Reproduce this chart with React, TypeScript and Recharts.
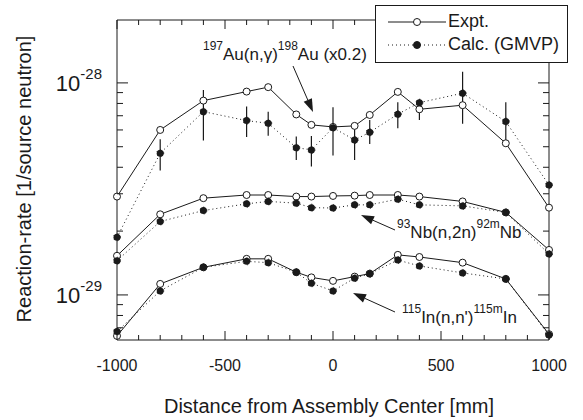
import React from "react";
import { ComposedChart, Line, XAxis, YAxis, ErrorBar, Legend } from "recharts";

const FONT = '"Liberation Sans", Arial, Helvetica, sans-serif';
const INK = "#1a1a1a";

// detector positions [mm]
const positions = [-1000, -800, -600, -400, -300, -170, -100, 0, 100, 170, 300, 400, 600, 800, 1000];

// reaction rates, in units of 1e-29 per source neutron
const auExpt = [2.91, 6.0, 8.25, 9.1, 9.55, 7.1, 6.34, 6.2, 6.27, 7.06, 9.07, 7.51, 7.85, 5.19, 2.58];
const auCalc = [1.87, 4.66, 7.32, 6.64, 6.45, 4.95, 4.83, 6.15, 5.38, 5.85, 7.12, 8.07, 8.94, 6.57, 3.3];
const auCalcLow = [1.87, 3.86, 5.35, 5.55, 5.64, 4.33, 4.03, 4.54, 4.33, 5.15, 6.11, 6.69, 6.41, 5.29, 3.3];
const auCalcHigh = [1.87, 5.43, 9.27, 7.73, 7.32, 5.58, 5.62, 7.68, 6.27, 6.69, 8.11, 8.38, 11.3, 8.11, 3.3];
const nbExpt = [1.53, 2.4, 2.86, 2.96, 2.96, 2.91, 2.91, 2.93, 2.94, 2.96, 2.96, 2.91, 2.76, 2.45, 1.63];
const nbCalc = [1.45, 2.22, 2.5, 2.69, 2.76, 2.71, 2.58, 2.57, 2.66, 2.66, 2.83, 2.66, 2.63, 2.45, 1.56];
const inExpt = [0.641, 1.127, 1.35, 1.48, 1.48, 1.28, 1.21, 1.165, 1.22, 1.26, 1.545, 1.51, 1.42, 1.19, 0.653];
const inCalc = [0.672, 1.045, 1.35, 1.44, 1.42, 1.28, 1.135, 1.045, 1.2, 1.26, 1.46, 1.37, 1.27, 1.19, 0.647];

const legendNames = ["Expt.", "Calc. (GMVP)"];
const xMajor = [-1000, -500, 0, 500, 1000];
const xTicks = Array.from({ length: 21 }, (_, i) => -1000 + i * 100);
const yTicks = [0.7, 0.8, 0.9, 1, 2, 3, 4, 5, 6, 7, 8, 9, 10];
const yLabels: Record<number, string> = { 1: "-29", 10: "-28" };

const rows = positions.map((x, i) => ({
  x,
  auExpt: auExpt[i],
  auCalc: auCalc[i],
  auErr: [auCalc[i] - auCalcLow[i], auCalcHigh[i] - auCalc[i]],
  nbExpt: nbExpt[i],
  nbCalc: nbCalc[i],
  inExpt: inExpt[i],
  inCalc: inCalc[i],
}));

const openDot = { r: 3.5, fill: "#fff", stroke: INK, strokeWidth: 1 };
const fullDot = { r: 3.5, fill: INK, stroke: INK, strokeWidth: 1 };

const BottomTick = ({ x, y, payload }: any) => {
  const major = xMajor.includes(payload.value);
  return (
    <g>
      <line x1={x} y1={y} x2={x} y2={y - (major ? 9 : 5)} stroke={INK} />
      {major && (
        <text x={x} y={y + 31} textAnchor="middle" fontSize={16} fontFamily={FONT} fill={INK}>
          {payload.value}
        </text>
      )}
    </g>
  );
};

const TopTick = ({ x, y, payload }: any) => {
  const major = xMajor.includes(payload.value);
  return <line x1={x} y1={y} x2={x} y2={y + (major ? 9 : 5)} stroke={INK} />;
};

const LeftTick = ({ x, y, payload }: any) => {
  const exp = yLabels[payload.value];
  return (
    <g>
      <line x1={x} y1={y} x2={x + (exp ? 11 : 6)} y2={y} stroke={INK} />
      {exp && (
        <text x={102} y={y + 8} textAnchor="end" fontSize={22} fontFamily={FONT} fill={INK}>
          10
          <tspan fontSize={15} dy={-12}>
            {exp}
          </tspan>
        </text>
      )}
    </g>
  );
};

const RightTick = ({ x, y, payload }: any) => {
  const major = !!yLabels[payload.value];
  return <line x1={x} y1={y} x2={x - (major ? 11 : 6)} y2={y} stroke={INK} />;
};

const Arrow = ({ from, to }: { from: number[]; to: number[] }) => {
  const [x1, y1] = from;
  const [x2, y2] = to;
  const len = Math.hypot(x2 - x1, y2 - y1);
  const ux = (x2 - x1) / len;
  const uy = (y2 - y1) / len;
  const bx = x2 - ux * 13;
  const by = y2 - uy * 13;
  const hw = 4.5;
  return (
    <g>
      <line x1={x1} y1={y1} x2={bx} y2={by} stroke={INK} strokeWidth={1} />
      <polygon
        points={`${x2},${y2} ${bx - uy * hw},${by + ux * hw} ${bx + uy * hw},${by - ux * hw}`}
        fill={INK}
      />
    </g>
  );
};

const Label = ({ x, y, parts }: { x: number; y: number; parts: [string, boolean][] }) => (
  <text x={x} y={y} fontSize={17} fontFamily={FONT} fill={INK}>
    {parts.map(([t, sup], i) => {
      const prevSup = i > 0 && parts[i - 1][1];
      const dy = sup && !prevSup ? -10 : !sup && prevSup ? 10 : 0;
      return (
        <tspan key={i} fontSize={sup ? 12 : 17} dy={dy}>
          {t}
        </tspan>
      );
    })}
  </text>
);

const LegendBox = ({ payload }: any) => {
  const items = (payload || [])
    .filter((e: any) => e.type !== "none" && legendNames.includes(e.value))
    .sort((a: any, b: any) => legendNames.indexOf(a.value) - legendNames.indexOf(b.value));
  return (
    <div
      style={{
        border: `1px solid ${INK}`,
        background: "#fff",
        width: 193,
        height: 58,
        boxSizing: "border-box",
        paddingTop: 4,
        fontFamily: FONT,
        fontSize: 18,
        color: INK,
      }}
    >
      {items.map((entry: any) => {
        const calc = String(entry.value).startsWith("Calc");
        return (
          <div key={entry.value} style={{ display: "flex", alignItems: "center", height: 23 }}>
            <svg width={72} height={14} style={{ flex: "none" }}>
              <line x1={12} x2={70} y1={7} y2={7} stroke={INK} strokeDasharray={calc ? "1 3" : undefined} />
              <circle cx={41} cy={7} r={3.5} fill={calc ? INK : "#fff"} stroke={INK} />
            </svg>
            <span style={{ whiteSpace: "nowrap" }}>{entry.value}</span>
          </div>
        );
      })}
    </div>
  );
};

export default function App() {
  return (
    <div style={{ position: "absolute", left: 0, top: 0, background: "#fff" }}>
      <ComposedChart width={583} height={420} data={rows} margin={{ top: 0, right: 0, bottom: 0, left: 0 }}>
        <XAxis
          dataKey="x"
          type="number"
          domain={[-1000, 1000]}
          ticks={xTicks}
          interval={0}
          height={80}
          tickSize={0}
          tickMargin={0}
          tick={<BottomTick />}
          stroke={INK}
        />
        <XAxis
          xAxisId="top"
          orientation="top"
          dataKey="x"
          type="number"
          domain={[-1000, 1000]}
          ticks={xTicks}
          interval={0}
          height={20}
          tickSize={0}
          tickMargin={0}
          tick={<TopTick />}
          stroke={INK}
        />
        <YAxis
          type="number"
          scale="log"
          domain={[0.613, 19.8]}
          allowDataOverflow
          ticks={yTicks}
          interval={0}
          width={117}
          tickSize={0}
          tickMargin={0}
          tick={<LeftTick />}
          stroke={INK}
        />
        <YAxis
          yAxisId="right"
          orientation="right"
          type="number"
          scale="log"
          domain={[0.613, 19.8]}
          allowDataOverflow
          ticks={yTicks}
          interval={0}
          width={34}
          tickSize={0}
          tickMargin={0}
          tick={<RightTick />}
          stroke={INK}
        />
        <Line dataKey="auExpt" name="Expt." stroke={INK} strokeWidth={1} dot={openDot} activeDot={false} isAnimationActive={false} />
        <Line dataKey="nbExpt" legendType="none" stroke={INK} strokeWidth={1} dot={openDot} activeDot={false} isAnimationActive={false} />
        <Line dataKey="inExpt" legendType="none" stroke={INK} strokeWidth={1} dot={openDot} activeDot={false} isAnimationActive={false} />
        <Line dataKey="auCalc" name="Calc. (GMVP)" stroke={INK} strokeWidth={1} strokeDasharray="1 3" dot={fullDot} activeDot={false} isAnimationActive={false}>
          <ErrorBar dataKey="auErr" direction="y" width={0} stroke={INK} strokeWidth={1.2} />
        </Line>
        <Line dataKey="nbCalc" legendType="none" stroke={INK} strokeWidth={1} strokeDasharray="1 3" dot={fullDot} activeDot={false} isAnimationActive={false} />
        <Line dataKey="inCalc" legendType="none" stroke={INK} strokeWidth={1} strokeDasharray="1 3" dot={fullDot} activeDot={false} isAnimationActive={false} />
        <Legend
          layout="vertical"
          align="center"
          verticalAlign="middle"
          content={<LegendBox />}
          wrapperStyle={{ left: 375, top: 5, width: 193, height: 58 }}
        />
        <Label x={203} y={60} parts={[["197", true], ["Au(n,γ)", false], ["198", true], ["Au (x0.2)", false]]} />
        <Arrow from={[293, 66]} to={[313, 112]} />
        <Label x={397} y={238} parts={[["93", true], ["Nb(n,2n)", false], ["92m", true], ["Nb", false]]} />
        <Arrow from={[395, 230]} to={[361, 215]} />
        <Label x={402} y={323} parts={[["115", true], ["In(n,n')", false], ["115m", true], ["In", false]]} />
        <Arrow from={[395, 312]} to={[353, 293]} />
        <text x={329} y={413} textAnchor="middle" fontSize={20} fontFamily={FONT} fill={INK}>
          Distance from Assembly Center [mm]
        </text>
        <text x={31} y={179} transform="rotate(-90 31 179)" textAnchor="middle" fontSize={20} fontFamily={FONT} fill={INK}>
          Reaction-rate [1/source neutron]
        </text>
      </ComposedChart>
    </div>
  );
}
